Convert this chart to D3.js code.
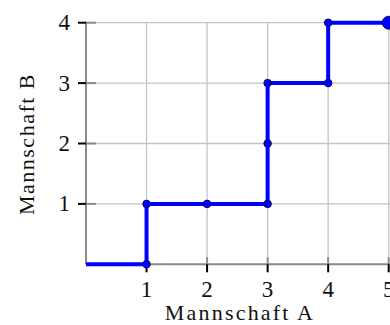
<!DOCTYPE html>
<html>
<head>
<meta charset="utf-8">
<script src="https://cdn.jsdelivr.net/npm/d3@7"></script>
<style>
  html, body { margin: 0; padding: 0; background: #fff; }
  svg { display: block; }
  text { font-family: "Liberation Serif", "Times New Roman", serif; fill: #111; }
</style>
</head>
<body>
<svg id="chart" width="390" height="325"></svg>
<script>
// Data
const teamA = [0, 1, 1, 2, 3, 3, 3, 4, 4, 5];
const teamB = [0, 0, 1, 1, 1, 2, 3, 3, 4, 4];
const xTicks = [1, 2, 3, 4, 5];
const yTicks = [1, 2, 3, 4];
const xLabel = "Mannschaft A";
const yLabel = "Mannschaft B";

const svg = d3.select("#chart");
const x = d3.scaleLinear().domain([0, 5]).range([86, 388.7]);
const y = d3.scaleLinear().domain([0, 4]).range([264.3, 22.7]);

const pts = teamA.map((a, i) => ({ a, b: teamB[i] }));

// Grid
const g = svg.append("g");
g.selectAll("line.vg").data(xTicks).enter().append("line")
  .attr("x1", d => x(d)).attr("x2", d => x(d))
  .attr("y1", y(4)).attr("y2", y(0))
  .attr("stroke", "#c4c4c4").attr("stroke-width", 1.3);
g.selectAll("line.hg").data(yTicks).enter().append("line")
  .attr("x1", x(0)).attr("x2", 390)
  .attr("y1", d => y(d)).attr("y2", d => y(d))
  .attr("stroke", "#c4c4c4").attr("stroke-width", 1.3);

// Axes lines
g.append("line").attr("x1", x(0)).attr("x2", x(0)).attr("y1", y(4) - 1).attr("y2", y(0))
  .attr("stroke", "#8a8a8a").attr("stroke-width", 2);
g.append("line").attr("x1", x(0)).attr("x2", 390).attr("y1", y(0)).attr("y2", y(0))
  .attr("stroke", "#8a8a8a").attr("stroke-width", 2);

// Ticks: inner gray, outer black
g.selectAll("line.xti").data(xTicks).enter().append("line")
  .attr("x1", d => x(d)).attr("x2", d => x(d))
  .attr("y1", y(0) - 7).attr("y2", y(0))
  .attr("stroke", "#8a8a8a").attr("stroke-width", 2);
g.selectAll("line.xto").data(xTicks).enter().append("line")
  .attr("x1", d => x(d)).attr("x2", d => x(d))
  .attr("y1", y(0)).attr("y2", y(0) + 8)
  .attr("stroke", "#000").attr("stroke-width", 2);
g.selectAll("line.yti").data(yTicks).enter().append("line")
  .attr("x1", x(0)).attr("x2", x(0) + 10)
  .attr("y1", d => y(d)).attr("y2", d => y(d))
  .attr("stroke", "#8a8a8a").attr("stroke-width", 2);
g.selectAll("line.yto").data(yTicks).enter().append("line")
  .attr("x1", x(0) - 8).attr("x2", x(0))
  .attr("y1", d => y(d)).attr("y2", d => y(d))
  .attr("stroke", "#000").attr("stroke-width", 2);

// Tick labels
g.selectAll("text.xt").data(xTicks).enter().append("text")
  .attr("x", d => x(d)).attr("y", 297)
  .attr("text-anchor", "middle").attr("font-size", 23)
  .text(d => d);
g.selectAll("text.yt").data(yTicks).enter().append("text")
  .attr("x", 70).attr("y", d => y(d) + 7.5)
  .attr("text-anchor", "end").attr("font-size", 23)
  .text(d => d);

// Axis labels
svg.append("text").attr("x", 240).attr("y", 320)
  .attr("text-anchor", "middle").attr("font-size", 22)
  .attr("letter-spacing", 2.2)
  .text(xLabel);
svg.append("text").attr("transform", "translate(34,144) rotate(-90)")
  .attr("text-anchor", "middle").attr("font-size", 22)
  .attr("letter-spacing", 1.5)
  .text(yLabel);

// Line
const line = d3.line().x(d => x(d.a)).y(d => y(d.b));
svg.append("path").datum(pts).attr("d", line)
  .attr("fill", "none").attr("stroke", "#0000ff").attr("stroke-width", 4)
  .attr("stroke-linejoin", "miter");

// Markers
const inner = pts.slice(1, pts.length - 1);
svg.selectAll("circle.m").data(inner).enter().append("circle")
  .attr("cx", d => x(d.a)).attr("cy", d => y(d.b)).attr("r", 3.8)
  .attr("fill", "#0000ff").attr("stroke", "#000033").attr("stroke-width", 0.8);
const last = pts[pts.length - 1];
svg.append("circle").attr("cx", x(last.a)).attr("cy", y(last.b)).attr("r", 6.5)
  .attr("fill", "#0000ff").attr("stroke", "#000033").attr("stroke-width", 0.8);
</script>
</body>
</html>
